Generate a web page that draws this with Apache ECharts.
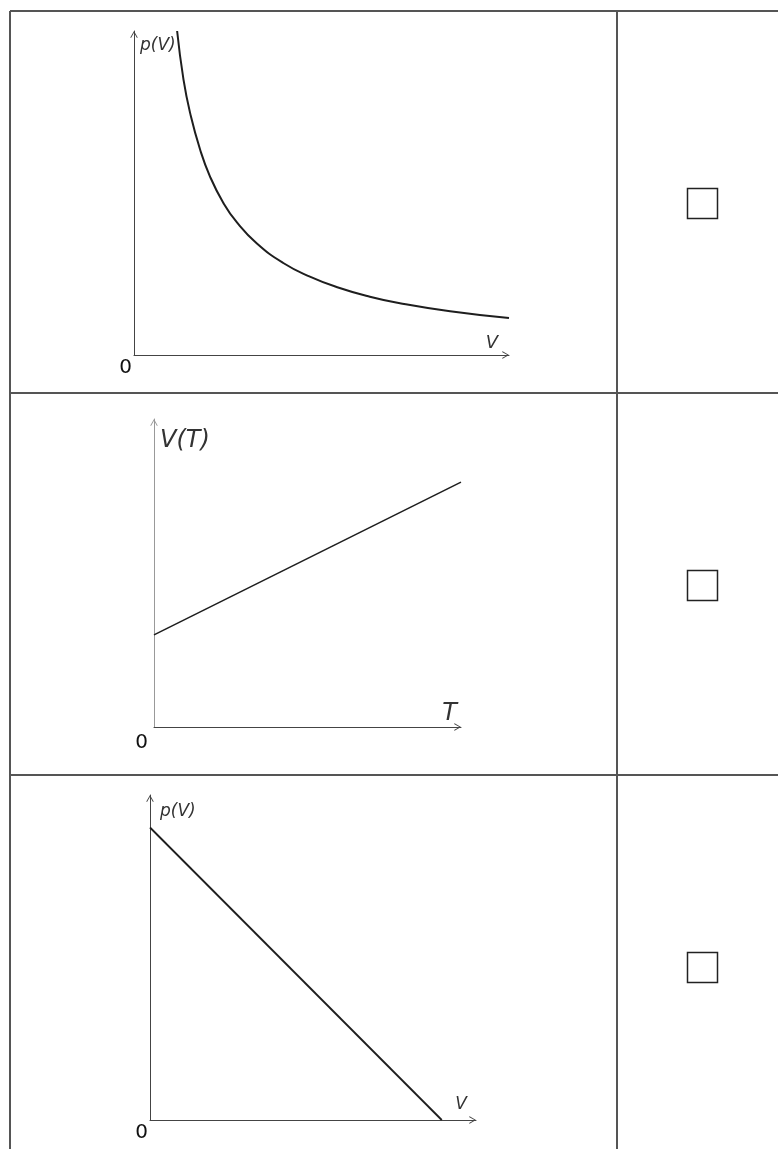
<!DOCTYPE html>
<html>
<head>
<meta charset="utf-8">
<title>Zustandsänderungen</title>
<script src="https://cdn.jsdelivr.net/npm/echarts@6/dist/echarts.min.js"></script>
<style>
    html, body { margin: 0; padding: 0; background: #fff; }
    #main { width: 778px; height: 1149px; }
</style>
</head>
<body>
<div id="main"></div>
<script>
// Diagramm 1: p(V), Hyperbel
var volume1 = [1.15, 1.32, 1.5, 1.76, 2.03, 2.38, 2.74, 3.27, 3.98, 4.69, 5.4, 6.29, 7.09, 8.43, 10];
var pressure1 = [10, 8.5, 7.45, 6.35, 5.5, 4.7, 4.1, 3.45, 2.84, 2.42, 2.1, 1.8, 1.6, 1.35, 1.14];

// Diagramm 2: V(T), Gerade mit Achsenabschnitt
var temp2 = [0, 10];
var volume2 = [2.99, 7.95];

// Diagramm 3: p(V), fallende Gerade
var volume3 = [0, 8.95];
var pressure3 = [9.0, 0];

// Achsenbeschriftungen
var yNames = ['p(V)', 'V(T)', 'p(V)'];
var xNames = ['V', 'T', 'V'];
var originLabel = '0';

var arrowPath = 'path://M0,8.6L5,0L10,8.6L9,9.4L5,2.2L1,9.4Z';
var fontName = '"DejaVu Sans", "Open Sans", sans-serif';

function pairs(xs, ys) {
    var out = [];
    for (var i = 0; i < xs.length; i++) {
        out.push([xs[i], ys[i]]);
    }
    return out;
}

function makeXAxis(idx, name, nameSize, nameGap, padBottom, zeroPad, zeroMargin) {
    return {
        type: 'value', gridIndex: idx, min: 0, max: 10, interval: 10,
        name: name, nameLocation: 'end', nameGap: nameGap,
        nameTextStyle: {
            fontFamily: fontName, fontStyle: 'italic', fontWeight: 200, fontSize: nameSize, color: '#333',
            align: 'right', verticalAlign: 'bottom', padding: [0, 0, padBottom, 0]
        },
        axisLine: {
            symbol: ['none', arrowPath], symbolSize: [11, 7], symbolOffset: [0, -3.5],
            lineStyle: { color: '#444', width: 1 }
        },
        axisTick: { show: false },
        splitLine: { show: false },
        axisLabel: {
            margin: zeroMargin, fontFamily: fontName, fontSize: 20, color: '#111',
            align: 'right', padding: [0, zeroPad, 0, 0],
            formatter: function (v) { return v === 0 ? originLabel : ''; }
        }
    };
}

function makeYAxis(idx, name, nameSize, nameGap, padLeft, lineColor) {
    return {
        type: 'value', gridIndex: idx, min: 0, max: 10,
        name: name, nameLocation: 'end', nameGap: nameGap,
        nameTextStyle: {
            fontFamily: fontName, fontStyle: 'italic', fontWeight: 200, fontSize: nameSize, color: '#333',
            align: 'left', verticalAlign: 'top', padding: [0, 0, 0, padLeft]
        },
        axisLine: {
            symbol: ['none', arrowPath], symbolSize: [11, 7], symbolOffset: [0, -3.5],
            lineStyle: { color: lineColor, width: 1 }
        },
        axisTick: { show: false },
        splitLine: { show: false },
        axisLabel: { show: false }
    };
}

function makeLine(idx, data, width, smooth) {
    return {
        type: 'line', xAxisIndex: idx, yAxisIndex: idx,
        data: data, smooth: smooth,
        showSymbol: false, silent: true,
        lineStyle: { color: '#1e1e1e', width: width }
    };
}

// Tabellenlinien und Ankreuzkästchen
function tableGraphics() {
    var g = [];
    var border = { stroke: '#555', lineWidth: 2 };
    var rows = [11, 393, 775];
    g.push({ type: 'line', shape: { x1: 10, y1: 11, x2: 778, y2: 11 }, style: border });
    g.push({ type: 'line', shape: { x1: 10, y1: 11, x2: 10, y2: 1149 }, style: border });
    g.push({ type: 'line', shape: { x1: 617, y1: 11, x2: 617, y2: 1149 }, style: border });
    for (var i = 1; i < rows.length; i++) {
        g.push({ type: 'line', shape: { x1: 10, y1: rows[i], x2: 778, y2: rows[i] }, style: border });
    }
    for (var j = 0; j < rows.length; j++) {
        g.push({
            type: 'rect',
            shape: { x: 687.5, y: rows[j] + 177.5, width: 30, height: 30 },
            style: { fill: '#fff', stroke: '#222', lineWidth: 1.5 }
        });
    }
    return g;
}

var chart = echarts.init(document.getElementById('main'), null, { renderer: 'canvas' });

chart.setOption({
    animation: false,
    backgroundColor: '#fff',
    grid: [
        { left: 134, top: 31, width: 375, height: 324, outerBoundsMode: 'none' },
        { left: 154, top: 419, width: 307, height: 308, outerBoundsMode: 'none' },
        { left: 150, top: 795, width: 326, height: 325, outerBoundsMode: 'none' }
    ],
    xAxis: [
        makeXAxis(0, xNames[0], 18, -11, 3, 2, 3),
        makeXAxis(1, xNames[1], 24, -4, 1, 6, 6),
        makeXAxis(2, xNames[2], 17, -9, 7, 2, 3)
    ],
    yAxis: [
        makeYAxis(0, yNames[0], 17, -6, 6, '#444'),
        makeYAxis(1, yNames[1], 24, -10, 6, '#999'),
        makeYAxis(2, yNames[2], 17, -8, 10, '#444')
    ],
    series: [
        makeLine(0, pairs(volume1, pressure1), 2, 0.5),
        makeLine(1, pairs(temp2, volume2), 1.6, false),
        makeLine(2, pairs(volume3, pressure3), 1.8, false)
    ],
    graphic: tableGraphics()
});
</script>
</body>
</html>
